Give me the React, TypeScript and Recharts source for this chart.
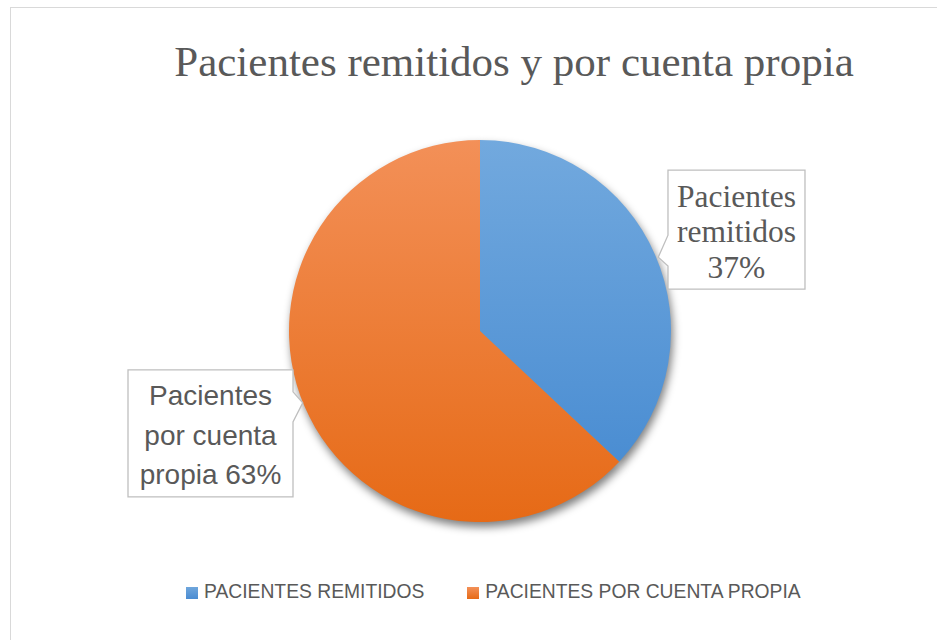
import { PieChart, Pie, Cell, Legend } from 'recharts';

const categories = ['Pacientes remitidos', 'Pacientes por cuenta propia'];
const values = [37, 63];
// label text per slice; {p} is replaced by the slice percentage
const labelLines = [
  ['Pacientes', 'remitidos', '{p}'],
  ['Pacientes', 'por cuenta', 'propia {p}'],
];

const data = categories.map((name, i) => ({ name, value: values[i] }));

const gradients = [
  { id: 'gBlue', top: '#72a9de', bottom: '#4388d0' },
  { id: 'gOrange', top: '#f39058', bottom: '#e66a16' },
];
const swatches = [
  'linear-gradient(#6fa6dc, #4a8cd2)',
  'linear-gradient(#f39058, #e66a16)',
];

const RAD = Math.PI / 180;

// callout box layout, relative to the point on the arc at mid angle
const boxes = [
  { dx: 12.7, dy: -85, w: 137, h: 119, side: 'left', wedge: [65, 96], tip: [3, 2], font: '"Liberation Serif", "Times New Roman", serif', size: 31.5, base: [37, 72, 108] },
  { dx: -176.7, dy: -37, w: 165, h: 127, side: 'right', wedge: [22, 52], tip: [-2, -4], font: '"Liberation Sans", Arial, sans-serif', size: 28, base: [35, 75, 114] },
];

const renderLabel = (props: any) => {
  const { cx, cy, midAngle, outerRadius, index, percent } = props;
  const ax = cx + outerRadius * Math.cos(-midAngle * RAD);
  const ay = cy + outerRadius * Math.sin(-midAngle * RAD);
  const b = boxes[index];
  const L = ax + b.dx;
  const T = ay + b.dy;
  const R = L + b.w;
  const B = T + b.h;
  const tx = ax + b.tip[0];
  const ty = ay + b.tip[1];
  const d =
    b.side === 'left'
      ? `M${L},${T} H${R} V${B} H${L} V${T + b.wedge[1]} L${tx},${ty} L${L},${T + b.wedge[0]} Z`
      : `M${L},${T} H${R} V${T + b.wedge[0]} L${tx},${ty} L${R},${T + b.wedge[1]} V${B} H${L} Z`;
  const pct = Math.round(percent * 100) + '%';
  return (
    <g>
      <path d={d} fill="#ffffff" stroke="#bfbfbf" strokeWidth={1.3} />
      {labelLines[index].map((line, k) => (
        <text
          key={k}
          x={L + b.w / 2}
          y={T + b.base[k]}
          textAnchor="middle"
          fill="#595959"
          fontFamily={b.font}
          fontSize={b.size}
        >
          {line.replace('{p}', pct)}
        </text>
      ))}
    </g>
  );
};

const renderLegend = () => (
  <div
    style={{
      display: 'flex',
      gap: 43,
      paddingLeft: 186,
      fontFamily: '"Liberation Sans", Arial, sans-serif',
      fontSize: 19.3,
      color: '#595959',
      lineHeight: '22px',
      whiteSpace: 'nowrap',
    }}
  >
    {categories.map((name, i) => (
      <div key={name} style={{ display: 'flex', alignItems: 'center' }}>
        <span style={{ display: 'inline-block', width: 12, height: 12, background: swatches[i], marginRight: 6, marginTop: 1 }} />
        <span style={{ textTransform: 'uppercase' }}>{name}</span>
      </div>
    ))}
  </div>
);

export default function App() {
  return (
    <div style={{ position: 'absolute', left: 0, top: 0, width: 937, height: 640, background: '#fff', overflow: 'hidden' }}>
      <svg width={0} height={0} style={{ position: 'absolute' }}>
        <defs>
          {gradients.map((g) => (
            <linearGradient key={g.id} id={g.id} gradientUnits="userSpaceOnUse" x1={0} y1={140} x2={0} y2={522}>
              <stop offset="0%" stopColor={g.top} />
              <stop offset="100%" stopColor={g.bottom} />
            </linearGradient>
          ))}
          <filter id="pieBlur" x="-20%" y="-20%" width="140%" height="140%">
            <feGaussianBlur stdDeviation={4} />
          </filter>
        </defs>
      </svg>
      <div style={{ position: 'absolute', left: 9.5, top: 6.5, width: 1000, height: 1000, border: '1px solid #d9d9d9' }} />
      <div
        style={{
          position: 'absolute',
          left: 514,
          top: 40,
          transform: 'translateX(-50%)',
          whiteSpace: 'nowrap',
          fontFamily: '"Liberation Serif", "Times New Roman", serif',
          fontSize: 43,
          lineHeight: '43px',
          color: '#595959',
        }}
      >
        Pacientes remitidos y por cuenta propia
      </div>
      <div style={{ position: 'absolute', left: 0, top: 0 }}>
        <PieChart width={937} height={640} margin={{ top: 0, right: 0, bottom: 0, left: 0 }}>
          <Pie
            data={data}
            dataKey="value"
            nameKey="name"
            cx={482}
            cy={336}
            outerRadius={191}
            startAngle={90}
            endAngle={-270}
            stroke="none"
            isAnimationActive={false}
            legendType="none"
          >
            {data.map((d) => (
              <Cell key={`shadow-${d.name}`} fill="#000" fillOpacity={0.5} filter="url(#pieBlur)" />
            ))}
          </Pie>
          <Pie
            data={data}
            dataKey="value"
            nameKey="name"
            cx={480}
            cy={331}
            outerRadius={191}
            startAngle={90}
            endAngle={-270}
            stroke="none"
            isAnimationActive={false}
            label={renderLabel}
            labelLine={false}
          >
            {data.map((d, i) => (
              <Cell key={`cell-${d.name}`} fill={`url(#${gradients[i].id})`} />
            ))}
          </Pie>
          <Legend content={renderLegend} wrapperStyle={{ position: 'absolute', top: 581, left: 0, width: 937 }} />
        </PieChart>
      </div>
    </div>
  );
}
